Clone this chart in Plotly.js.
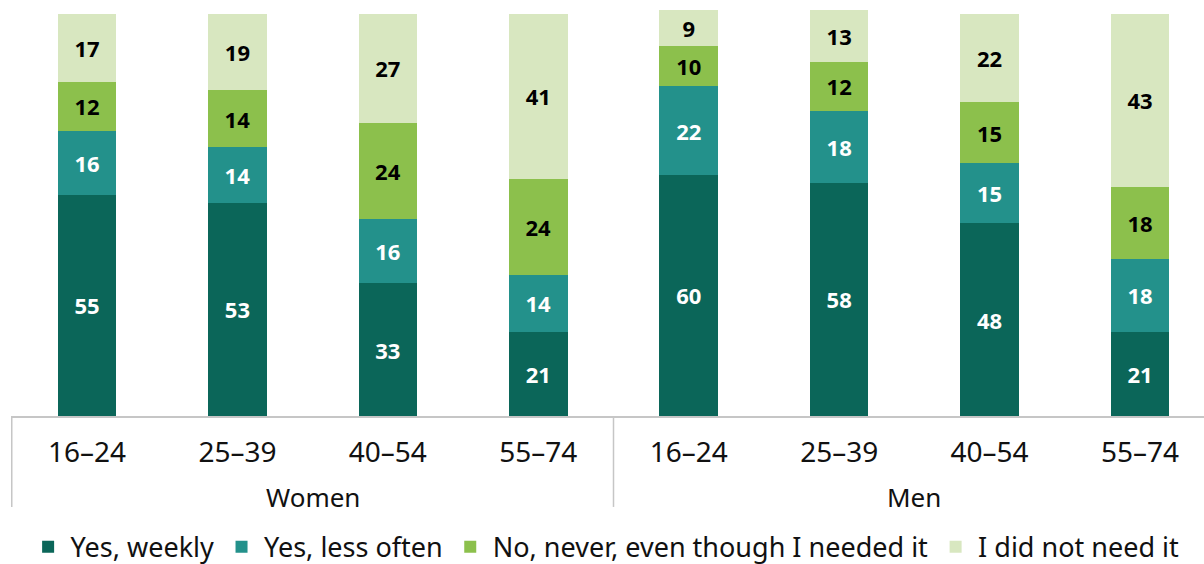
<!DOCTYPE html>
<html>
<head>
<meta charset="utf-8">
<script src="https://cdn.plot.ly/plotly-3.0.1.min.js"></script>
<style>
  html, body { margin: 0; padding: 0; overflow: hidden; background: #fff; }
  #chart { width: 1220px; height: 564px; }
</style>
</head>
<body>
<div id="chart"></div>
<script>
// Share of respondents (%) by sex and age group
const groups = ['Women', 'Women', 'Women', 'Women', 'Men', 'Men', 'Men', 'Men'];
const ageBands = ['16–24', '25–39', '40–54', '55–74', '16–24', '25–39', '40–54', '55–74'];
const groupNames = ['Women', 'Men'];

const yesWeekly     = [55, 53, 33, 21, 60, 58, 48, 21];
const yesLessOften  = [16, 14, 16, 14, 22, 18, 15, 18];
const noNeverNeeded = [12, 14, 24, 24, 10, 12, 15, 18];
const didNotNeed    = [17, 19, 27, 41,  9, 13, 22, 43];

const seriesNames = ['Yes, weekly', 'Yes, less often', 'No, never, even though I needed it', 'I did not need it'];
const seriesValues = [yesWeekly, yesLessOften, noNeverNeeded, didNotNeed];
const seriesColors = ['#0b6659', '#23918b', '#8cc04c', '#d8e7c0'];
const labelColors  = ['#ffffff', '#ffffff', '#000000', '#000000'];

const FONT = 'Noto Sans, Open Sans, DejaVu Sans, sans-serif';
const RULE = '#c6c6c6';

// one category per (group, age band) pair; the axis shows only the age band
const categories = groups.map((g, i) => g + ' ' + ageBands[i]);

const traces = seriesValues.map((vals, i) => ({
  type: 'bar',
  name: seriesNames[i],
  x: categories,
  y: vals,
  text: vals.map(String),
  textposition: 'inside',
  insidetextanchor: 'middle',
  textangle: 0,
  constraintext: 'none',
  textfont: { family: FONT, size: 22, color: labelColors[i], weight: 'bold' },
  marker: { color: seriesColors[i], line: { width: 0 } },
  hoverinfo: 'skip'
}));

// group spans along the category axis (index-based)
const spans = groupNames.map(name => {
  const idx = groups.map((g, i) => g === name ? i : -1).filter(i => i >= 0);
  return { name, first: idx[0], last: idx[idx.length - 1] };
});

const GROUP_LABEL_Y = -0.2;   // below the age-band labels
const DIVIDER_BOTTOM = -0.224;

const annotations = spans.map(s => ({
  xref: 'x', yref: 'paper',
  x: (s.first + s.last) / 2, y: GROUP_LABEL_Y,
  text: s.name,
  showarrow: false,
  xanchor: 'center', yanchor: 'middle',
  font: { family: FONT, size: 26, color: '#111111' }
}));

const dividerPositions = [spans[0].first - 0.5].concat(spans.map(s => s.last + 0.5));
const shapes = dividerPositions.map(xv => ({
  type: 'line', xref: 'x', yref: 'paper',
  x0: xv, x1: xv, y0: 0, y1: DIVIDER_BOTTOM,
  line: { color: RULE, width: 1.5 }
}));

const layout = {
  width: 1220,
  height: 564,
  margin: { l: 10.7, r: 3.7, t: 10, b: 148, autoexpand: false },
  barmode: 'stack',
  bargap: 0.61,
  paper_bgcolor: '#ffffff',
  plot_bgcolor: '#ffffff',
  font: { family: FONT, color: '#111111' },
  showlegend: true,
  legend: {
    orientation: 'h',
    xref: 'container',
    yref: 'container',
    x: 0.021,
    xanchor: 'left',
    y: 0.03,
    yanchor: 'middle',
    itemwidth: 35,
    font: { family: FONT, size: 27, color: '#111111' },
    traceorder: 'normal'
  },
  annotations: annotations,
  shapes: shapes,
  xaxis: {
    type: 'category',
    tickmode: 'array',
    tickvals: categories,
    ticktext: ageBands,
    automargin: false,
    showline: true,
    linecolor: RULE,
    linewidth: 1.5,
    ticks: '',
    ticklabelstandoff: 11,
    tickfont: { family: FONT, size: 28, color: '#111111' },
    showgrid: false,
    zeroline: false,
    fixedrange: true
  },
  yaxis: {
    range: [0, 101],
    visible: false,
    showgrid: false,
    zeroline: false,
    fixedrange: true
  }
};

Plotly.newPlot('chart', traces, layout, { displayModeBar: false, staticPlot: true });
</script>
</body>
</html>
